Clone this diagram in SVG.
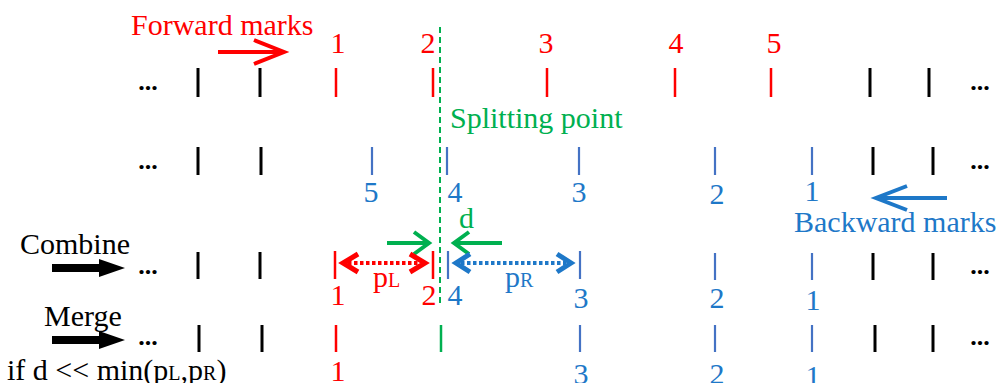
<svg xmlns="http://www.w3.org/2000/svg" width="999" height="383" viewBox="0 0 999 383">
<style>
text{font-family:"Liberation Serif","Times New Roman",serif;font-size:30px}
.n{text-anchor:middle}
.k{stroke:#000;stroke-width:3}
.r{stroke:#FF0000;stroke-width:2.5}
.b{stroke:#4472C4;stroke-width:2.2}
.g{stroke:#00B050;stroke-width:2.5}
.rt{fill:#FF0000}
.bt{fill:#1E78C8}
.gt{fill:#00B050}
.kt{fill:#000}
.dots{font-weight:bold;font-size:26px;text-anchor:middle}
.ah{fill:none;stroke-linecap:butt;stroke-linejoin:miter}
</style>
<rect width="999" height="383" fill="#fff"/>

<g id="row-forward">
<text class="dots" x="148" y="90">...</text>
<line class="k" x1="198" y1="68" x2="198" y2="97"/>
<line class="k" x1="260" y1="68" x2="260" y2="97"/>
<line class="r" x1="336" y1="68" x2="336" y2="97"/>
<line class="r" x1="433" y1="68" x2="433" y2="97"/>
<line class="r" x1="547" y1="68" x2="547" y2="97"/>
<line class="r" x1="675" y1="68" x2="675" y2="97"/>
<line class="r" x1="771" y1="68" x2="771" y2="97"/>
<line class="k" x1="870" y1="68" x2="870" y2="97"/>
<line class="k" x1="929" y1="68" x2="929" y2="97"/>
<text class="dots" x="980" y="90">...</text>
<text class="n rt" x="338" y="53">1</text>
<text class="n rt" x="428" y="53">2</text>
<text class="n rt" x="546" y="53">3</text>
<text class="n rt" x="676" y="53">4</text>
<text class="n rt" x="774" y="53">5</text>
<text class="rt" x="131" y="35">Forward marks</text>
</g>

<g id="row-backward">
<text class="dots" x="148" y="169">...</text>
<line class="k" x1="198" y1="147" x2="198" y2="175"/>
<line class="k" x1="261" y1="147" x2="261" y2="175"/>
<line class="b" x1="372" y1="147" x2="372" y2="175"/>
<line class="b" x1="447" y1="147" x2="447" y2="175"/>
<line class="b" x1="579" y1="147" x2="579" y2="175"/>
<line class="b" x1="715" y1="147" x2="715" y2="175"/>
<line class="b" x1="812" y1="147" x2="812" y2="175"/>
<line class="k" x1="873" y1="147" x2="873" y2="175"/>
<line class="k" x1="933" y1="147" x2="933" y2="175"/>
<text class="dots" x="980" y="169">...</text>
<text class="n bt" x="371" y="202">5</text>
<text class="n bt" x="455" y="202">4</text>
<text class="n bt" x="579" y="202">3</text>
<text class="n bt" x="717" y="204">2</text>
<text class="n bt" x="812" y="201">1</text>
<text class="bt" x="794" y="232">Backward marks</text>
</g>

<g id="splitting-point">
<line stroke="#00B050" stroke-width="2" stroke-dasharray="6,4" x1="440" y1="27" x2="440" y2="305"/>
<text class="gt" x="450" y="128">Splitting point</text>
</g>

<g id="row-combine">
<text class="kt" x="20" y="254">Combine</text>
<text class="dots" x="148" y="274">...</text>
<line class="k" x1="198" y1="252" x2="198" y2="279"/>
<line class="k" x1="260" y1="252" x2="260" y2="279"/>
<line class="r" x1="335" y1="251" x2="335" y2="279"/>
<line class="r" x1="433" y1="251" x2="433" y2="279"/>
<line class="b" x1="448" y1="251" x2="448" y2="279"/>
<line class="b" x1="580" y1="251" x2="580" y2="279"/>
<line class="b" x1="715" y1="253" x2="715" y2="280"/>
<line class="b" x1="812" y1="253" x2="812" y2="280"/>
<line class="k" x1="873" y1="253" x2="873" y2="280"/>
<line class="k" x1="933" y1="253" x2="933" y2="280"/>
<text class="dots" x="980" y="274">...</text>
<text class="n rt" x="338" y="305">1</text>
<text class="n rt" x="429" y="305">2</text>
<text class="n bt" x="455" y="305">4</text>
<text class="n bt" x="581" y="308">3</text>
<text class="n bt" x="717" y="308">2</text>
<text class="n bt" x="813" y="310">1</text>
<text class="rt" x="373" y="287">p<tspan font-size="20">L</tspan></text>
<text class="bt" x="505" y="287">p<tspan font-size="20">R</tspan></text>
<text class="gt" x="459" y="228">d</text>
</g>

<g id="row-merge">
<text class="kt" x="44" y="326">Merge</text>
<text class="dots" x="148" y="345">...</text>
<line class="k" x1="199" y1="325" x2="199" y2="352"/>
<line class="k" x1="262" y1="325" x2="262" y2="352"/>
<line class="r" x1="336" y1="325" x2="336" y2="352"/>
<line class="g" x1="441" y1="325" x2="441" y2="352"/>
<line class="b" x1="580" y1="325" x2="580" y2="352"/>
<line class="b" x1="715" y1="325" x2="715" y2="352"/>
<line class="b" x1="812" y1="325" x2="812" y2="352"/>
<line class="k" x1="875" y1="325" x2="875" y2="352"/>
<line class="k" x1="933" y1="325" x2="933" y2="352"/>
<text class="dots" x="980" y="345">...</text>
<text class="n rt" x="338" y="381">1</text>
<text class="n bt" x="581" y="384">3</text>
<text class="n bt" x="717" y="384">2</text>
<text class="n bt" x="813" y="386">1</text>
<text class="kt" x="7" y="380">if d &lt;&lt; min(p<tspan font-size="20">L</tspan>,p<tspan font-size="20">R</tspan>)</text>
</g>

<g id="connectors">
<!-- forward arrow -->
<line x1="218" y1="52" x2="283" y2="52" stroke="#FF0000" stroke-width="4"/>
<polyline class="ah" points="254,40 284,52 254,64" stroke="#FF0000" stroke-width="4"/>
<!-- backward arrow -->
<line x1="947" y1="198" x2="877" y2="198" stroke="#1E78C8" stroke-width="4"/>
<polyline class="ah" points="907,186 876,198 907,210" stroke="#1E78C8" stroke-width="4"/>
<!-- combine / merge block arrows -->
<polygon points="52,264 99,264 99,259 125,268 99,277 99,272 52,272" fill="#000"/>
<polygon points="52,336 99,336 99,331 125,340 99,349 99,344 52,344" fill="#000"/>
<!-- green d arrows -->
<line x1="387" y1="243" x2="427" y2="243" stroke="#00B050" stroke-width="4"/>
<polyline class="ah" points="414,232 429,243 414,254" stroke="#00B050" stroke-width="4"/>
<line x1="502" y1="243" x2="456" y2="243" stroke="#00B050" stroke-width="4"/>
<polyline class="ah" points="469,232 454,243 469,254" stroke="#00B050" stroke-width="4"/>
<!-- pL dotted -->
<line x1="348" y1="263" x2="420" y2="263" stroke="#FF0000" stroke-width="4" stroke-dasharray="3.5,2.5"/>
<polyline class="ah" points="358,254 343,263 358,272" stroke="#FF0000" stroke-width="5"/>
<polyline class="ah" points="410,254 425,263 410,272" stroke="#FF0000" stroke-width="5"/>
<!-- pR dotted -->
<line x1="461" y1="263" x2="566" y2="263" stroke="#1E78C8" stroke-width="4" stroke-dasharray="3.5,2.5"/>
<polyline class="ah" points="470,254 456,263 470,272" stroke="#1E78C8" stroke-width="5"/>
<polyline class="ah" points="557,254 571,263 557,272" stroke="#1E78C8" stroke-width="5"/>
</g>
</svg>
